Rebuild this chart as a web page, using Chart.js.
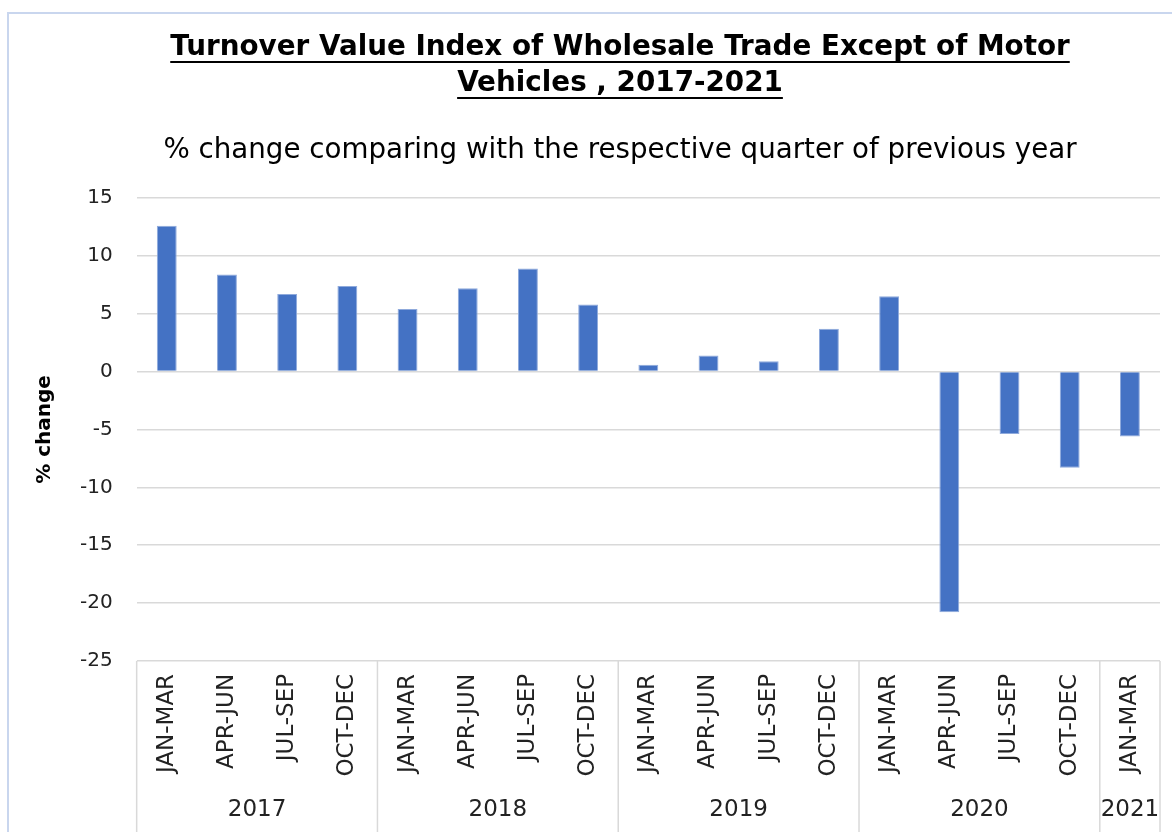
<!DOCTYPE html>
<html>
<head>
<meta charset="utf-8">
<title>Turnover Value Index of Wholesale Trade</title>
<script src="https://cdn.jsdelivr.net/npm/chart.js@4/dist/chart.umd.min.js"></script>
<style>
  body { margin: 0; background: #fff; }
  #wrap { position: relative; width: 1172px; height: 832px; overflow: hidden; }
  #frame {
    position: absolute; left: 7px; top: 12px; right: -4px; bottom: -4px;
    border-left: 2px solid #c9d6ee; border-top: 2px solid #c9d6ee;
    pointer-events: none;
  }
</style>
</head>
<body>
<div id="wrap">
  <canvas id="chart" width="1172" height="832"></canvas>
  <div id="frame"></div>
</div>
<script>
// --- Data ---
const quarters = [
  "JAN-MAR", "APR-JUN", "JUL-SEP", "OCT-DEC",
  "JAN-MAR", "APR-JUN", "JUL-SEP", "OCT-DEC",
  "JAN-MAR", "APR-JUN", "JUL-SEP", "OCT-DEC",
  "JAN-MAR", "APR-JUN", "JUL-SEP", "OCT-DEC",
  "JAN-MAR"
];
const years = ["2017", "2018", "2019", "2020", "2021"];
const quartersPerYear = [4, 4, 4, 4, 1];
const pctChange = [12.6, 8.4, 6.7, 7.4, 5.4, 7.2, 8.9, 5.8, 0.6, 1.4, 0.9, 3.7, 6.5, -20.8, -5.4, -8.3, -5.6];
const yTicks = [15, 10, 5, 0, -5, -10, -15, -20, -25];

// year group boundaries / centres in category units
const boundaries = [0];
quartersPerYear.forEach((n) => boundaries.push(boundaries[boundaries.length - 1] + n));
const yearCentres = quartersPerYear.map((n, i) => boundaries[i] + n / 2);

const FONT = "'DejaVu Sans', Verdana, sans-serif";
const GRID = "#d9d9d9";

// underline the two title lines
const underlineTitle = {
  id: "underlineTitle",
  afterDraw(chart) {
    const tb = chart.titleBlock;
    if (!tb) return;
    const o = chart.options.plugins.title;
    const font = Chart.helpers.toFont(o.font);
    const ctx = chart.ctx;
    ctx.save();
    ctx.font = font.string;
    ctx.strokeStyle = "#000";
    ctx.lineWidth = 2;
    const cx = (tb.left + tb.right) / 2;
    o.text.forEach((line, i) => {
      const w = ctx.measureText(line).width;
      const y = tb.top + o.padding.top + font.lineHeight * (i + 0.5) + 14;
      ctx.beginPath();
      ctx.moveTo(cx - w / 2, y);
      ctx.lineTo(cx + w / 2, y);
      ctx.stroke();
    });
    ctx.restore();
  },
};

// vertical separators between the year groups, under the x axis
const yearSeparators = {
  id: "yearSeparators",
  afterDraw(chart) {
    const xs = chart.scales.x;
    const ctx = chart.ctx;
    ctx.save();
    ctx.strokeStyle = GRID;
    ctx.lineWidth = 1.5;
    boundaries.forEach((b) => {
      const px = xs.getPixelForValue(b - 0.5);
      ctx.beginPath();
      ctx.moveTo(px, chart.chartArea.bottom);
      ctx.lineTo(px, chart.height);
      ctx.stroke();
    });
    ctx.restore();
  },
};

new Chart(document.getElementById("chart"), {
  type: "bar",
  data: {
    labels: quarters,
    datasets: [
      {
        data: pctChange,
        backgroundColor: "#4472C4",
        borderColor: "#8faadc",
        borderWidth: 1,
        barPercentage: 0.33,
        categoryPercentage: 1,
      },
    ],
  },
  options: {
    responsive: false,
    animation: false,
    layout: { padding: { left: 80, right: 12, top: 0, bottom: 1.6 } },
    plugins: {
      legend: { display: false },
      tooltip: { enabled: false },
      title: {
        display: true,
        text: ["Turnover Value Index of Wholesale Trade Except of Motor", "Vehicles , 2017-2021"],
        color: "#000",
        font: { family: FONT, size: 27.8, weight: "bold", lineHeight: "36px" },
        padding: { top: 30, bottom: 0 },
      },
      subtitle: {
        display: true,
        text: "% change comparing with the respective quarter of previous year",
        color: "#000",
        font: { family: FONT, size: 27.7, weight: "normal", lineHeight: "30px" },
        padding: { top: 34, bottom: 32 },
      },
    },
    scales: {
      y: {
        min: -25,
        max: 15,
        afterBuildTicks: (s) => { s.ticks = yTicks.map((v) => ({ value: v })); },
        ticks: { padding: 24, color: "#222", font: { family: FONT, size: 20 } },
        grid: { color: GRID, lineWidth: 1.5, drawTicks: false },
        border: { display: false },
        title: {
          display: true,
          text: "% change",
          color: "#000",
          font: { family: FONT, size: 20, weight: "bold", lineHeight: "24px" },
          padding: { top: -47, bottom: -1 },
        },
      },
      x: {
        type: "category",
        position: "bottom",
        offset: true,
        grid: { display: false },
        border: { display: false },
        ticks: {
          autoSkip: false,
          minRotation: 90,
          maxRotation: 90,
          padding: 5,
          color: "#222",
          font: { family: FONT, size: 23 },
        },
      },
      x2: {
        type: "linear",
        position: "bottom",
        min: 0,
        max: boundaries[boundaries.length - 1],
        offset: false,
        grid: { display: false },
        border: { display: false },
        afterBuildTicks: (s) => { s.ticks = yearCentres.map((v) => ({ value: v })); },
        ticks: {
          autoSkip: false,
          maxRotation: 0,
          padding: 6.6,
          color: "#222",
          font: { family: FONT, size: 23 },
          callback: (v, i) => years[i],
        },
      },
    },
  },
  plugins: [underlineTitle, yearSeparators],
});
</script>
</body>
</html>
